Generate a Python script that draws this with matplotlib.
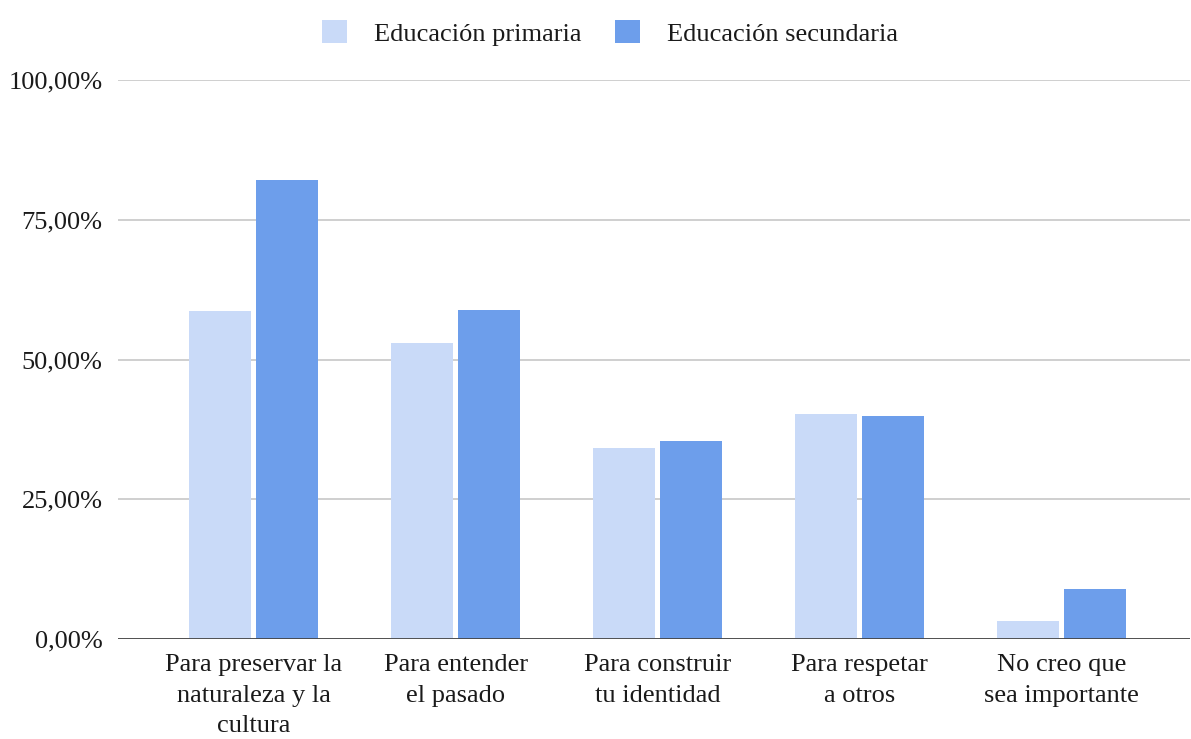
import numpy as np
import matplotlib
matplotlib.use('Agg')
import matplotlib.pyplot as plt
from matplotlib.patches import Patch
from matplotlib.ticker import FuncFormatter

plt.rcParams['font.family'] = ['Liberation Serif', 'DejaVu Serif']

categories = ['Para preservar la\nnaturaleza y la\ncultura', 'Para entender\nel pasado',
              'Para construir\ntu identidad', 'Para respetar\na otros',
              'No creo que\nsea importante']
primaria = [58.7, 52.9, 34.2, 40.2, 3.3]
secundaria = [82.2, 58.8, 35.4, 39.9, 8.9]
series_names = ['Educación primaria', 'Educación secundaria']
c_prim = '#c9daf8'
c_sec = '#6d9eeb'

fig = plt.figure(figsize=(11.91, 7.39), dpi=100)
ax = fig.add_axes([118/1191, 1-639/739, 1072/1191, 559/739])

x = np.arange(len(categories))
w = 0.307
gap = 0.0125
ax.bar(x - w/2 - gap, primaria, width=w, color=c_prim, zorder=3)
ax.bar(x + w/2 + gap, secundaria, width=w, color=c_sec, zorder=3)

ax.set_xlim(-0.673, 4.634)
ax.set_ylim(0, 100)
ax.set_yticks([0, 25, 50, 75, 100])
ax.yaxis.set_major_formatter(FuncFormatter(lambda v, p: f'{v:.2f}'.replace('.', ',') + '%'))
ax.grid(axis='y', color='#cccccc', lw=1.3, zorder=0)
ax.axhline(0, color='#444444', lw=2, zorder=4)
for s in ax.spines.values():
    s.set_visible(False)
ax.set_xticks(x)
ax.set_xticklabels(categories, linespacing=1.5)
ax.tick_params(axis='both', length=0, labelsize=19, colors='#1a1a1a')
ax.tick_params(axis='y', pad=11)
ax.tick_params(axis='x', pad=11)

handles = [Patch(facecolor=c_prim, edgecolor='none'), Patch(facecolor=c_sec, edgecolor='none')]
fig.legend(handles, series_names, loc='center', bbox_to_anchor=(610/1191, 1-33/739),
           ncol=2, frameon=False, fontsize=19, handlelength=0.95, handleheight=0.95,
           handletextpad=1.0, columnspacing=1.3, labelcolor='#1a1a1a')

fig.savefig('out.png', dpi=100)
